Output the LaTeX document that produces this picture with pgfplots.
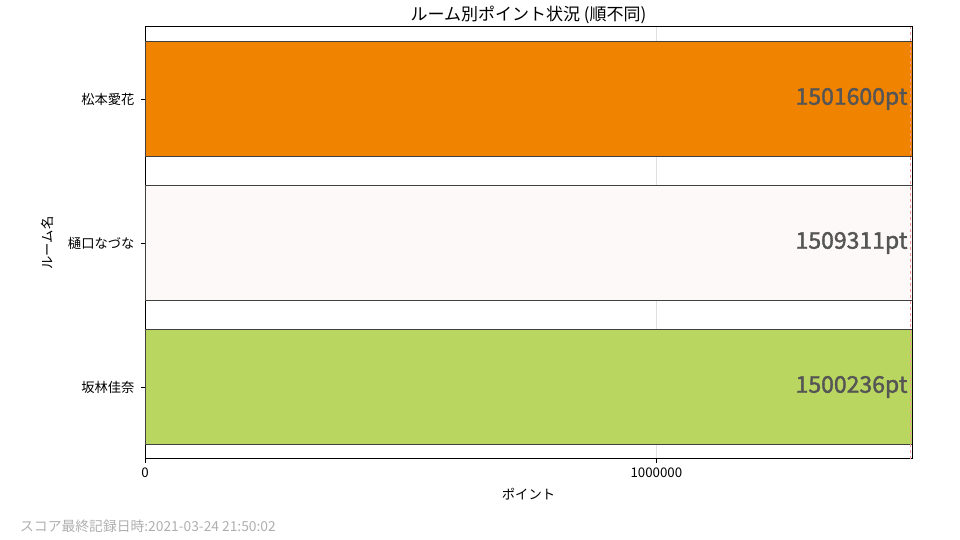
\documentclass[border=0pt]{standalone}
\usepackage{pgfplots}
\pgfplotsset{compat=1.18}
\usepackage{fontspec}
\setmainfont{Noto Sans CJK JP}
\newfontfamily\valfont{Noto Sans CJK JP}[FakeBold=1.6]
\definecolor{barorange}{RGB}{240,131,0}
\definecolor{barsnow}{RGB}{253,249,248}
\definecolor{bargreen}{RGB}{185,214,96}
\definecolor{edgegray}{RGB}{64,64,64}
\definecolor{valgray}{RGB}{85,85,85}
\definecolor{foot}{RGB}{175,175,175}
\definecolor{redline}{RGB}{248,150,150}
\begin{document}
\begin{tikzpicture}[x=1bp,y=1bp]
\useasboundingbox (0,0) rectangle (960,540);
\begin{axis}[
  at={(145bp,81bp)}, anchor=south west,
  width=767bp, height=432bp, scale only axis,
  xmin=0, xmax=1500000, ymin=-0.5, ymax=2.5,
  xtick={0,1000000}, xticklabels={0,1000000},
  ytick={0,1,2}, yticklabels={坂林佳奈,樋口なづな,松本愛花},
  tick align=outside, tick pos=left,
  major tick length=4bp,
  axis line style={line width=1bp},
  tick style={line width=0.8bp, black},
  xmajorgrids, grid style={line width=0.8bp, gray!25},
  ticklabel style={font=\fontsize{13.3bp}{15bp}\selectfont},
  yticklabel style={xshift=-3bp},
  xticklabel style={yshift=-1bp},
  xlabel={ポイント}, ylabel={ルーム名},
  label style={font=\fontsize{13.3bp}{15bp}\selectfont},
  xlabel style={yshift=-4bp},
  ylabel style={yshift=8bp},
  title={ルーム別ポイント状況 (順不同)},
  title style={font=\fontsize{17bp}{19bp}\selectfont, yshift=-6bp},
  scaled x ticks=false,
]
\addplot[xbar, bar width=0.8, bar shift=0pt, fill=bargreen, draw=edgegray, line width=0.8bp] coordinates {(1500236,0)};
\addplot[xbar, bar width=0.8, bar shift=0pt, fill=barsnow, draw=edgegray, line width=0.8bp] coordinates {(1509311,1)};
\addplot[xbar, bar width=0.8, bar shift=0pt, fill=barorange, draw=edgegray, line width=0.8bp] coordinates {(1501600,2)};
\addplot[redline, dashed, line width=1.2bp, mark=none] coordinates {(1497000,-0.5) (1497000,2.5)};
\addplot[draw=none, mark=none,
  nodes near coords, point meta=explicit symbolic,
  every node near coord/.append style={anchor=east, inner sep=0pt,
    text=valgray, font=\fontsize{23bp}{25bp}\valfont}]
  coordinates {(1491500,0) [1500236pt] (1491500,1) [1509311pt] (1491500,2) [1501600pt]};
\end{axis}
\node[anchor=base west, text=foot, font=\fontsize{13.8bp}{15bp}\selectfont, inner sep=0pt] at (20,8) {スコア最終記録日時:2021-03-24 21:50:02};
\end{tikzpicture}
\end{document}
